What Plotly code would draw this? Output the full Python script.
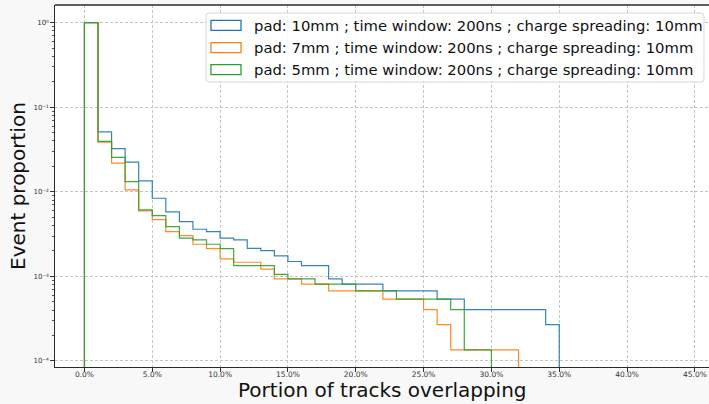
import plotly.graph_objects as go

# ---------------- data ----------------
bin_width = 0.01  # 1 % bins, starting at 0 %

series_names = [
    "pad: 10mm ; time window: 200ns ; charge spreading: 10mm",
    "pad: 7mm ; time window: 200ns ; charge spreading: 10mm",
    "pad: 5mm ; time window: 200ns ; charge spreading: 10mm",
]
series_colors = ["#1f77b4", "#ff7f0e", "#2ca02c"]

pad10_values = [1.0, 0.0511, 0.0324, 0.0224, 0.01345, 0.0084, 0.00578, 0.00444,
                0.00361, 0.00339, 0.00283, 0.0027, 0.00215, 0.00202, 0.00175,
                0.0015, 0.00134, 0.00134, 0.000933, 0.000809, 0.000809, 0.000809,
                0.000674, 0.000674, 0.000674, 0.000674, 0.000538, 0.000538,
                0.000404, 0.000404, 0.000404, 0.000404, 0.000404, 0.000404,
                0.000269]
pad7_values = [1.0, 0.0386, 0.0218, 0.01052, 0.00594, 0.00469, 0.00339, 0.00304,
               0.0024, 0.00213, 0.00161, 0.00147, 0.00147, 0.00122, 0.000933,
               0.000933, 0.000809, 0.000809, 0.000674, 0.000674, 0.000674,
               0.000674, 0.000538, 0.000538, 0.000538, 0.000404, 0.000269,
               0.000135, 0.000135, 0.000135, 0.000135, 0.000135]
pad5_values = [1.0, 0.0396, 0.0255, 0.0132, 0.00611, 0.00524, 0.00388, 0.00283,
               0.0027, 0.0024, 0.00213, 0.00134, 0.00134, 0.00134, 0.00106,
               0.000933, 0.000933, 0.000809, 0.000809, 0.000809, 0.000674,
               0.000674, 0.000674, 0.000538, 0.000538, 0.000538, 0.000538,
               0.000404, 0.000135, 0.000135]

x_tick_values = [0.0, 0.05, 0.10, 0.15, 0.20, 0.25, 0.30, 0.35, 0.40, 0.45]
y_tick_values = [1e-4, 1e-3, 1e-2, 1e-1, 1.0]
y_tick_labels = ["10⁻⁴", "10⁻³", "10⁻²", "10⁻¹", "10⁰"]

x_title = "Portion of tracks overlapping"
y_title = "Event proportion"

# ---------------- figure ----------------
W, H = 709, 404
ML, MR, MT, MB = 55, 0, 5, 37
PW, PH = W - ML - MR, H - MT - MB

fig = go.Figure()
floor = 1e-7
for name, color, vals in zip(series_names, series_colors,
                             [pad10_values, pad7_values, pad5_values]):
    xs = [0.0] + [i * bin_width for i in range(len(vals))] + [len(vals) * bin_width]
    ys = [floor] + list(vals) + [floor]
    fig.add_trace(go.Scatter(
        x=xs, y=ys, mode="lines", line=dict(color=color, width=1.2, shape="hv"),
        opacity=0.9, name=name, showlegend=False, hoverinfo="skip"))

grid = dict(showgrid=True, gridcolor="#c4c4c4", gridwidth=0.8, griddash="3px,2px")
fig.update_xaxes(
    range=[-0.0217, 0.4604], tickvals=x_tick_values, tickformat=".1%",
    ticks="outside", ticklen=3.5, tickcolor="#333", tickwidth=0.8,
    ticklabelstandoff=-4,
    showline=True, linecolor="#2a2a2a", linewidth=1.4, zeroline=False,
    tickfont=dict(family="DejaVu Sans", size=7.5, color="#333"),
    **grid)
fig.update_yaxes(
    type="log", range=[-4.071, 0.209], tickvals=y_tick_values, ticktext=y_tick_labels,
    ticks="outside", ticklen=3.5, tickcolor="#333", tickwidth=0.8,
    minor=dict(ticks="outside", ticklen=2, tickcolor="#555", tickwidth=0.6,
               tickvals=[m * 10 ** e for e in range(-4, 0) for m in range(2, 10)],
               showgrid=False),
    showline=True, linecolor="#2a2a2a", linewidth=1.4, zeroline=False,
    tickfont=dict(family="DejaVu Sans", size=7, color="#333"),
    **grid)

def px_x(p):
    return (p - ML) / PW

def px_y(p):
    return (H - MB - p) / PH

shapes = []
# top spine
shapes.append(dict(type="line", xref="paper", yref="paper", x0=0, x1=1, y0=1, y1=1,
                   line=dict(color="#2a2a2a", width=1.4), layer="above"))

# legend box (rounded)
bx0, bx1, by0, by1, r = 206, 704, 13, 82, 3
def P(x, y):
    return f"{px_x(x):.5f},{px_y(y):.5f}"
path = (f"M{P(bx0 + r, by0)} L{P(bx1 - r, by0)} Q{P(bx1, by0)} {P(bx1, by0 + r)} "
        f"L{P(bx1, by1 - r)} Q{P(bx1, by1)} {P(bx1 - r, by1)} "
        f"L{P(bx0 + r, by1)} Q{P(bx0, by1)} {P(bx0, by1 - r)} "
        f"L{P(bx0, by0 + r)} Q{P(bx0, by0)} {P(bx0 + r, by0)} Z")
shapes.append(dict(type="path", xref="paper", yref="paper", path=path,
                   fillcolor="rgba(255,255,255,0.85)", line=dict(color="#d6d6d6", width=1),
                   layer="above"))
annotations = []
row_y = [25.3, 47.7, 69.7]
for name, color, ry in zip(series_names, series_colors, row_y):
    shapes.append(dict(type="rect", xref="paper", yref="paper",
                       x0=px_x(211), x1=px_x(241), y0=px_y(ry - 5), y1=px_y(ry + 5),
                       line=dict(color=color, width=1.3), fillcolor="rgba(0,0,0,0)",
                       layer="above"))
    annotations.append(dict(xref="paper", yref="paper", x=px_x(252), y=px_y(ry),
                            xanchor="left", yanchor="middle", showarrow=False,
                            text=name, font=dict(family="DejaVu Sans", size=14.8, color="#111")))

# axis titles
annotations.append(dict(xref="paper", yref="paper", x=px_x(383), y=px_y(389.5),
                        xanchor="center", yanchor="middle", showarrow=False,
                        text=x_title, font=dict(family="DejaVu Sans", size=20, color="#111")))
annotations.append(dict(xref="paper", yref="paper", x=px_x(17.5), y=px_y(186.5),
                        xanchor="center", yanchor="middle", showarrow=False, textangle=-90,
                        text=y_title, font=dict(family="DejaVu Sans", size=20, color="#111")))

fig.update_layout(
    width=W, height=H, margin=dict(l=ML, r=MR, t=MT, b=MB, pad=0),
    paper_bgcolor="#f8f8f8", plot_bgcolor="#ffffff",
    shapes=shapes, annotations=annotations, showlegend=False,
)

fig.write_html("out.html")
